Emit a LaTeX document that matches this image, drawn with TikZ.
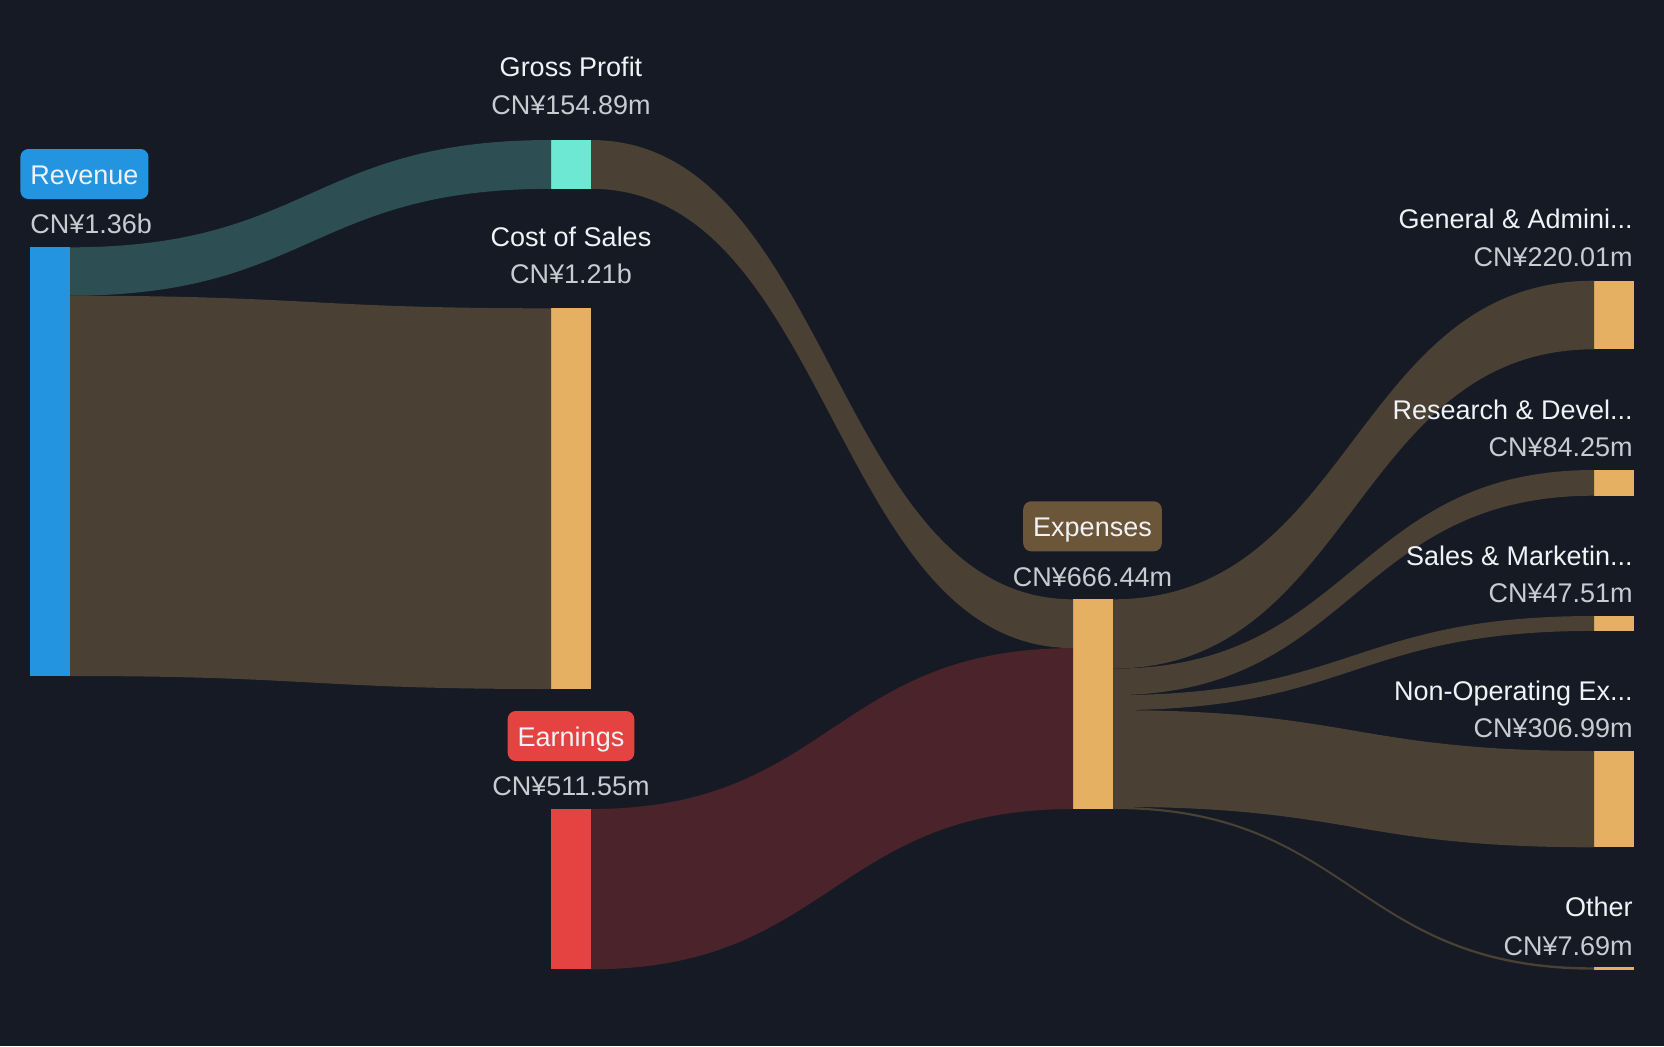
\documentclass[tikz,border=0pt]{standalone}
\usepackage{fontspec}
\setmainfont{Liberation Sans}
\usetikzlibrary{calc,fit}
\definecolor{bgnavy}{HTML}{151A25}
\definecolor{revblue}{HTML}{2394E0}
\definecolor{gpaqua}{HTML}{6DE8D3}
\definecolor{costorange}{HTML}{E6B062}
\definecolor{earnred}{HTML}{E54242}
\definecolor{expbrown}{HTML}{6B563A}
\definecolor{tealflow}{HTML}{2D4E52}
\definecolor{brownflow}{HTML}{4A4034}
\definecolor{redflow}{HTML}{4A232B}
\definecolor{namewhite}{HTML}{F0F2F5}
\definecolor{valgray}{HTML}{C8CBD0}
\tikzset{bar/.style={inner sep=0pt,outer sep=0pt,draw=none},
  lbl/.style={text=namewhite,inner sep=0pt,text height=10pt,text depth=0pt,
    font=\fontsize{13.5}{16}\selectfont},
  val/.style={lbl,text=valgray},
  tag/.style={lbl,rounded corners=4pt,inner xsep=5pt,inner ysep=7.5pt}}
\newcommand{\sankeyband}[5]{%
  \fill[#1] #2 .. controls +(240,0) and +(-240,0) .. #4 -- #5
    .. controls +(-240,0) and +(240,0) .. #3 -- cycle;}

\begin{document}
\begin{tikzpicture}[x=0.5pt,y=-0.5pt]
  \fill[bgnavy] (0,0) rectangle (1664,1046);
  \useasboundingbox (0,0) rectangle (1664,1046);

  \node[bar,fill=revblue,fit={(30,247.3) (70,676)}] (rev) {};
  \node[bar,fill=gpaqua,fit={(551,140) (591,188.8)}] (gp) {};
  \node[bar,fill=costorange,fit={(551,308.3) (591,689)}] (cos) {};
  \node[bar,fill=earnred,fit={(551,809) (591,969.3)}] (earn) {};
  \node[bar,fill=costorange,fit={(1073,599.3) (1113,809)}] (exp) {};
  \node[bar,fill=costorange,fit={(1594,280.7) (1634,349.3)}] (ga) {};
  \node[bar,fill=costorange,fit={(1594,470) (1634,495.7)}] (rd) {};
  \node[bar,fill=costorange,fit={(1594,616) (1634,630.9)}] (sm) {};
  \node[bar,fill=costorange,fit={(1594,751) (1634,847.3)}] (nonop) {};
  \node[bar,fill=costorange,fit={(1594,967.3) (1634,969.7)}] (other) {};

  \coordinate (revsplit) at ($(rev.north east)+(0,48.4)$);
  \coordinate (expin)    at ($(exp.north west)+(0,48.8)$);
  \coordinate (expga)    at ($(exp.north east)+(0,69.3)$);
  \coordinate (exprd)    at ($(exp.north east)+(0,95.8)$);
  \coordinate (expsm)    at ($(exp.north east)+(0,110.8)$);
  \coordinate (expnonop) at ($(exp.north east)+(0,207.5)$);

  \sankeyband{tealflow}{(rev.north east)}{(revsplit)}{(gp.north west)}{(gp.south west)}
  \sankeyband{brownflow}{(revsplit)}{(rev.south east)}{(cos.north west)}{(cos.south west)}
  \sankeyband{brownflow}{(gp.north east)}{(gp.south east)}{(exp.north west)}{(expin)}
  \sankeyband{redflow}{(earn.north east)}{(earn.south east)}{(expin)}{(exp.south west)}
  \sankeyband{brownflow}{(exp.north east)}{(expga)}{(ga.north west)}{(ga.south west)}
  \sankeyband{brownflow}{(expga)}{(exprd)}{(rd.north west)}{(rd.south west)}
  \sankeyband{brownflow}{(exprd)}{(expsm)}{(sm.north west)}{(sm.south west)}
  \sankeyband{brownflow}{(expsm)}{(expnonop)}{(nonop.north west)}{(nonop.south west)}
  \sankeyband{brownflow}{(expnonop)}{(exp.south east)}{(other.north west)}{(other.south west)}

  \node[tag,fill=revblue,anchor=west] (revtag) at (20,174) {Revenue};
  \node[val,anchor=west] (revval) at (30,223) {CN¥1.36b};
  \node[lbl] (gpname) at (571,66.7) {Gross Profit};
  \node[val] (gpval) at (571,104.3) {CN¥154.89m};
  \node[lbl] (cosname) at (571,236) {Cost of Sales};
  \node[val] (cosval) at (571,273) {CN¥1.21b};
  \node[tag,fill=earnred] (earntag) at (571,736) {Earnings};
  \node[val] (earnval) at (571,785.7) {CN¥511.55m};
  \node[tag,fill=expbrown] (exptag) at (1092.5,526.3) {Expenses};
  \node[val] (expval) at (1092.5,576) {CN¥666.44m};

  \node[lbl,anchor=east] (ganame) at (1633,218.3) {General \& Admini...};
  \node[val,anchor=east] (gaval) at (1633,256.7) {CN¥220.01m};
  \node[lbl,anchor=east] (rdname) at (1633,409.3) {Research \& Devel...};
  \node[val,anchor=east] (rdval) at (1633,446.7) {CN¥84.25m};
  \node[lbl,anchor=east] (smname) at (1633,555) {Sales \& Marketin...};
  \node[val,anchor=east] (smval) at (1633,592.7) {CN¥47.51m};
  \node[lbl,anchor=east] (nonopname) at (1633,690) {Non-Operating Ex...};
  \node[val,anchor=east] (nonopval) at (1633,727.7) {CN¥306.99m};
  \node[lbl,anchor=east] (othername) at (1633,906.7) {Other};
  \node[val,anchor=east] (otherval) at (1633,945) {CN¥7.69m};
\end{tikzpicture}
\end{document}
